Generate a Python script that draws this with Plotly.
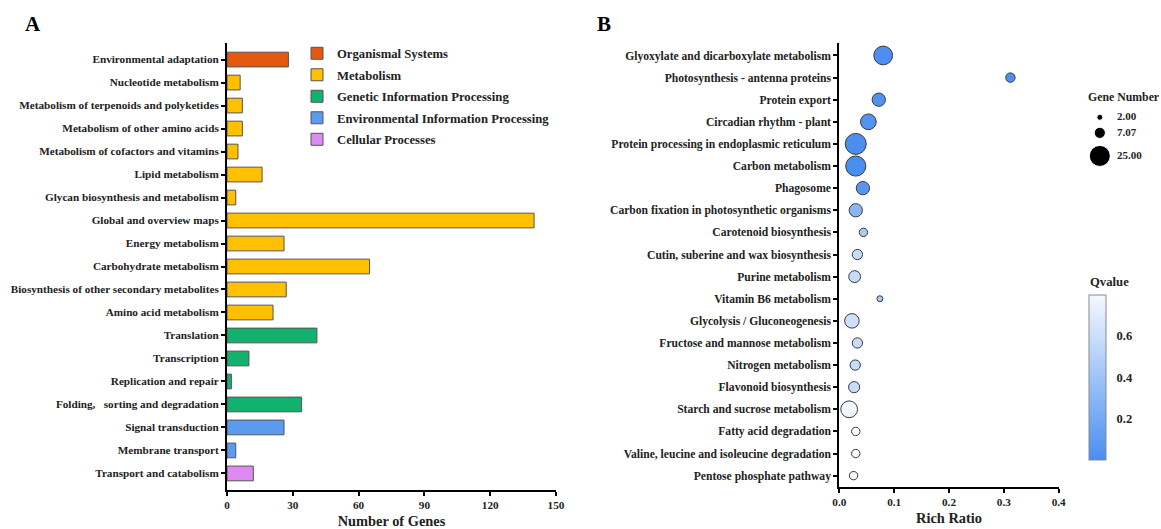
import numpy as np
import plotly.graph_objects as go

FONT = "Liberation Serif"
W, H = 1161, 529

# ---------------- Panel A: KEGG classification ----------------
kegg_pathways = [
    "Environmental adaptation",
    "Nucleotide metabolism",
    "Metabolism of terpenoids and polyketides",
    "Metabolism of other amino acids",
    "Metabolism of cofactors and vitamins",
    "Lipid metabolism",
    "Glycan biosynthesis and metabolism",
    "Global and overview maps",
    "Energy metabolism",
    "Carbohydrate metabolism",
    "Biosynthesis of other secondary metabolites",
    "Amino acid metabolism",
    "Translation",
    "Transcription",
    "Replication and repair",
    "Folding,\u00a0\u00a0 sorting and degradation",
    "Signal transduction",
    "Membrane transport",
    "Transport and catabolism",
]
kegg_gene_counts = [28, 6, 7, 7, 5, 16, 4, 140, 26, 65, 27, 21, 41, 10, 2, 34, 26, 4, 12]
kegg_classes = (
    ["Organismal Systems"]
    + ["Metabolism"] * 11
    + ["Genetic Information Processing"] * 4
    + ["Environmental Information Processing"] * 2
    + ["Cellular Processes"]
)
class_names = [
    "Organismal Systems",
    "Metabolism",
    "Genetic Information Processing",
    "Environmental Information Processing",
    "Cellular Processes",
]
class_colors = ["#e4590f", "#ffc000", "#12b26e", "#5a9bf0", "#de8af2"]
count_ticks = [0, 30, 60, 90, 120, 150]

# ---------------- Panel B: enrichment bubbles ----------------
enriched_pathways = [
    "Glyoxylate and dicarboxylate metabolism",
    "Photosynthesis - antenna proteins",
    "Protein export",
    "Circadian rhythm - plant",
    "Protein processing in endoplasmic reticulum",
    "Carbon metabolism",
    "Phagosome",
    "Carbon fixation in photosynthetic organisms",
    "Carotenoid biosynthesis",
    "Cutin, suberine and wax biosynthesis",
    "Purine metabolism",
    "Vitamin B6 metabolism",
    "Glycolysis / Gluconeogenesis",
    "Fructose and mannose metabolism",
    "Nitrogen metabolism",
    "Flavonoid biosynthesis",
    "Starch and sucrose metabolism",
    "Fatty acid degradation",
    "Valine, leucine and isoleucine degradation",
    "Pentose phosphate pathway",
]
rich_ratio = [0.080, 0.312, 0.072, 0.053, 0.030, 0.030, 0.043, 0.030, 0.044, 0.033,
              0.028, 0.074, 0.023, 0.033, 0.029, 0.027, 0.018, 0.030, 0.030, 0.026]
gene_number = [20, 5, 10, 14, 25, 23, 10, 10, 4, 6, 8, 2, 12, 6, 6, 7, 16, 4, 4, 4]
qvalue = [0.010, 0.020, 0.030, 0.040, 0.003, 0.005, 0.060, 0.300, 0.440, 0.580,
          0.570, 0.450, 0.610, 0.590, 0.580, 0.590, 0.770, 0.795, 0.795, 0.795]
ratio_ticks = [0.0, 0.1, 0.2, 0.3, 0.4]
size_legend_values = [2.00, 7.07, 25.00]
qvalue_ticks = [0.2, 0.4, 0.6]

# bubble diameter grows with sqrt(gene number)
DIAM_K = 4.2
SIZEREF = 2.0 / DIAM_K ** 2
q_scale = [[0.0, "#4a8ef0"], [1.0, "#f6f9ff"]]
TXT = "#222222"


def px_x(p):
    return p / W


def px_y(p):
    return 1 - p / H


fig = go.Figure()

# Panel A bars, one trace per KEGG class
for name, color in zip(class_names, class_colors):
    ys = [p for p, c in zip(kegg_pathways, kegg_classes) if c == name]
    xs = [v for v, c in zip(kegg_gene_counts, kegg_classes) if c == name]
    fig.add_trace(go.Bar(
        x=xs, y=ys, orientation="h", name=name, width=0.64, legendgroup=name,
        marker=dict(color=color, line=dict(color="#555555", width=1)),
        xaxis="x", yaxis="y",
    ))

# Panel B bubbles
fig.add_trace(go.Scatter(
    x=rich_ratio, y=enriched_pathways, mode="markers", showlegend=False,
    xaxis="x2", yaxis="y2",
    marker=dict(
        size=gene_number, sizemode="area", sizeref=SIZEREF, opacity=1,
        color=qvalue, colorscale=q_scale,
        line=dict(color="#3a3a3a", width=1),
        colorbar=dict(
            x=px_x(1089), xanchor="left", xpad=0,
            y=px_y(377.5), yanchor="middle", ypad=0,
            len=165 / H, lenmode="fraction", thickness=17,
            outlinewidth=1, outlinecolor="#8a8a8a",
            tickvals=qvalue_ticks, ticktext=[f"{v:.1f}" for v in qvalue_ticks],
            ticks="outside", ticklen=8, tickcolor="rgba(0,0,0,0)",
            tickfont=dict(family=FONT, size=12.5, color=TXT, weight="bold"),
        ),
    ),
))

# Gene Number size key on its own hidden axes (units are pixels)
key_pos = [17.3]
key_d = [DIAM_K * np.sqrt(v) for v in size_legend_values]
for i in range(1, len(size_legend_values)):
    key_pos.append(key_pos[-1] + (key_d[i - 1] + key_d[i]) / 2 + 7)
fig.add_trace(go.Scatter(
    x=[0.195] * 3, y=key_pos, mode="markers", showlegend=False,
    xaxis="x3", yaxis="y3",
    marker=dict(size=size_legend_values, sizemode="area", sizeref=SIZEREF,
                color="black", opacity=1),
))
fig.add_trace(go.Scatter(
    x=[0.42] * 3, y=key_pos, mode="text", showlegend=False,
    xaxis="x3", yaxis="y3",
    text=[f"{v:.2f}" for v in size_legend_values], textposition="middle right",
    textfont=dict(family=FONT, size=11, color=TXT, weight="bold"),
))

y_tick_font_a = dict(family=FONT, size=11.2, color=TXT, weight="bold")
y_tick_font_b = dict(family=FONT, size=11.6, color=TXT, weight="bold")
x_tick_font = dict(family=FONT, size=11.2, color=TXT, weight="bold")
title_font = dict(family=FONT, size=14.4, color=TXT, weight="bold")
axis_common = dict(showline=True, linecolor="black", linewidth=2, ticks="outside",
                   ticklen=4, tickwidth=1.5, tickcolor="black", showgrid=False,
                   zeroline=False, automargin=False)

fig.update_layout(
    template="none",
    width=W, height=H, margin=dict(l=0, r=0, t=0, b=0, autoexpand=False),
    paper_bgcolor="white", plot_bgcolor="white",
    barmode="overlay",
    font=dict(family=FONT, color=TXT),
    xaxis=dict(domain=[px_x(227), px_x(556)], range=[0, 150], tickvals=count_ticks,
               anchor="y", tickfont=x_tick_font,
               title=dict(text="Number of Genes", font=title_font, standoff=6),
               **axis_common),
    yaxis=dict(domain=[px_y(490), px_y(43)], type="category",
               categoryorder="array", categoryarray=kegg_pathways,
               range=[18.72, -0.72], anchor="x", tickfont=y_tick_font_a, **axis_common),
    xaxis2=dict(domain=[px_x(839.3), px_x(1058.7)], range=[0, 0.4], tickvals=ratio_ticks,
                tickformat=".1f", anchor="y2", tickfont=x_tick_font,
                title=dict(text="Rich Ratio", font=title_font, standoff=6),
                **axis_common),
    yaxis2=dict(domain=[px_y(486.7), px_y(43.3)], type="category",
                categoryorder="array", categoryarray=enriched_pathways,
                range=[19.5, -0.55], anchor="x2", tickfont=y_tick_font_b, **axis_common),
    xaxis3=dict(domain=[px_x(1085), px_x(1161)], range=[0, 1], visible=False, anchor="y3"),
    yaxis3=dict(domain=[px_y(170), px_y(100)], range=[70, 0], visible=False, anchor="x3"),
    legend=dict(x=px_x(297), y=px_y(38.5), xanchor="left", yanchor="top",
                font=dict(family=FONT, size=12.7, color=TXT, weight="bold"),
                bgcolor="rgba(0,0,0,0)", traceorder="grouped", tracegroupgap=2),
    annotations=[
        dict(text="A", x=px_x(33), y=px_y(24), xref="paper", yref="paper",
             xanchor="center", yanchor="middle", showarrow=False,
             font=dict(family=FONT, size=21, color="black", weight="bold")),
        dict(text="B", x=px_x(604), y=px_y(24), xref="paper", yref="paper",
             xanchor="center", yanchor="middle", showarrow=False,
             font=dict(family=FONT, size=21, color="black", weight="bold")),
        dict(text="Gene Number", x=px_x(1086), y=px_y(97), xref="paper", yref="paper",
             xanchor="left", yanchor="middle", showarrow=False,
             font=dict(family=FONT, size=11.8, color=TXT, weight="bold")),
        dict(text="Qvalue", x=px_x(1088), y=px_y(282), xref="paper", yref="paper",
             xanchor="left", yanchor="middle", showarrow=False,
             font=dict(family=FONT, size=12.7, color=TXT, weight="bold")),
    ],
)

fig.write_html("out.html")
